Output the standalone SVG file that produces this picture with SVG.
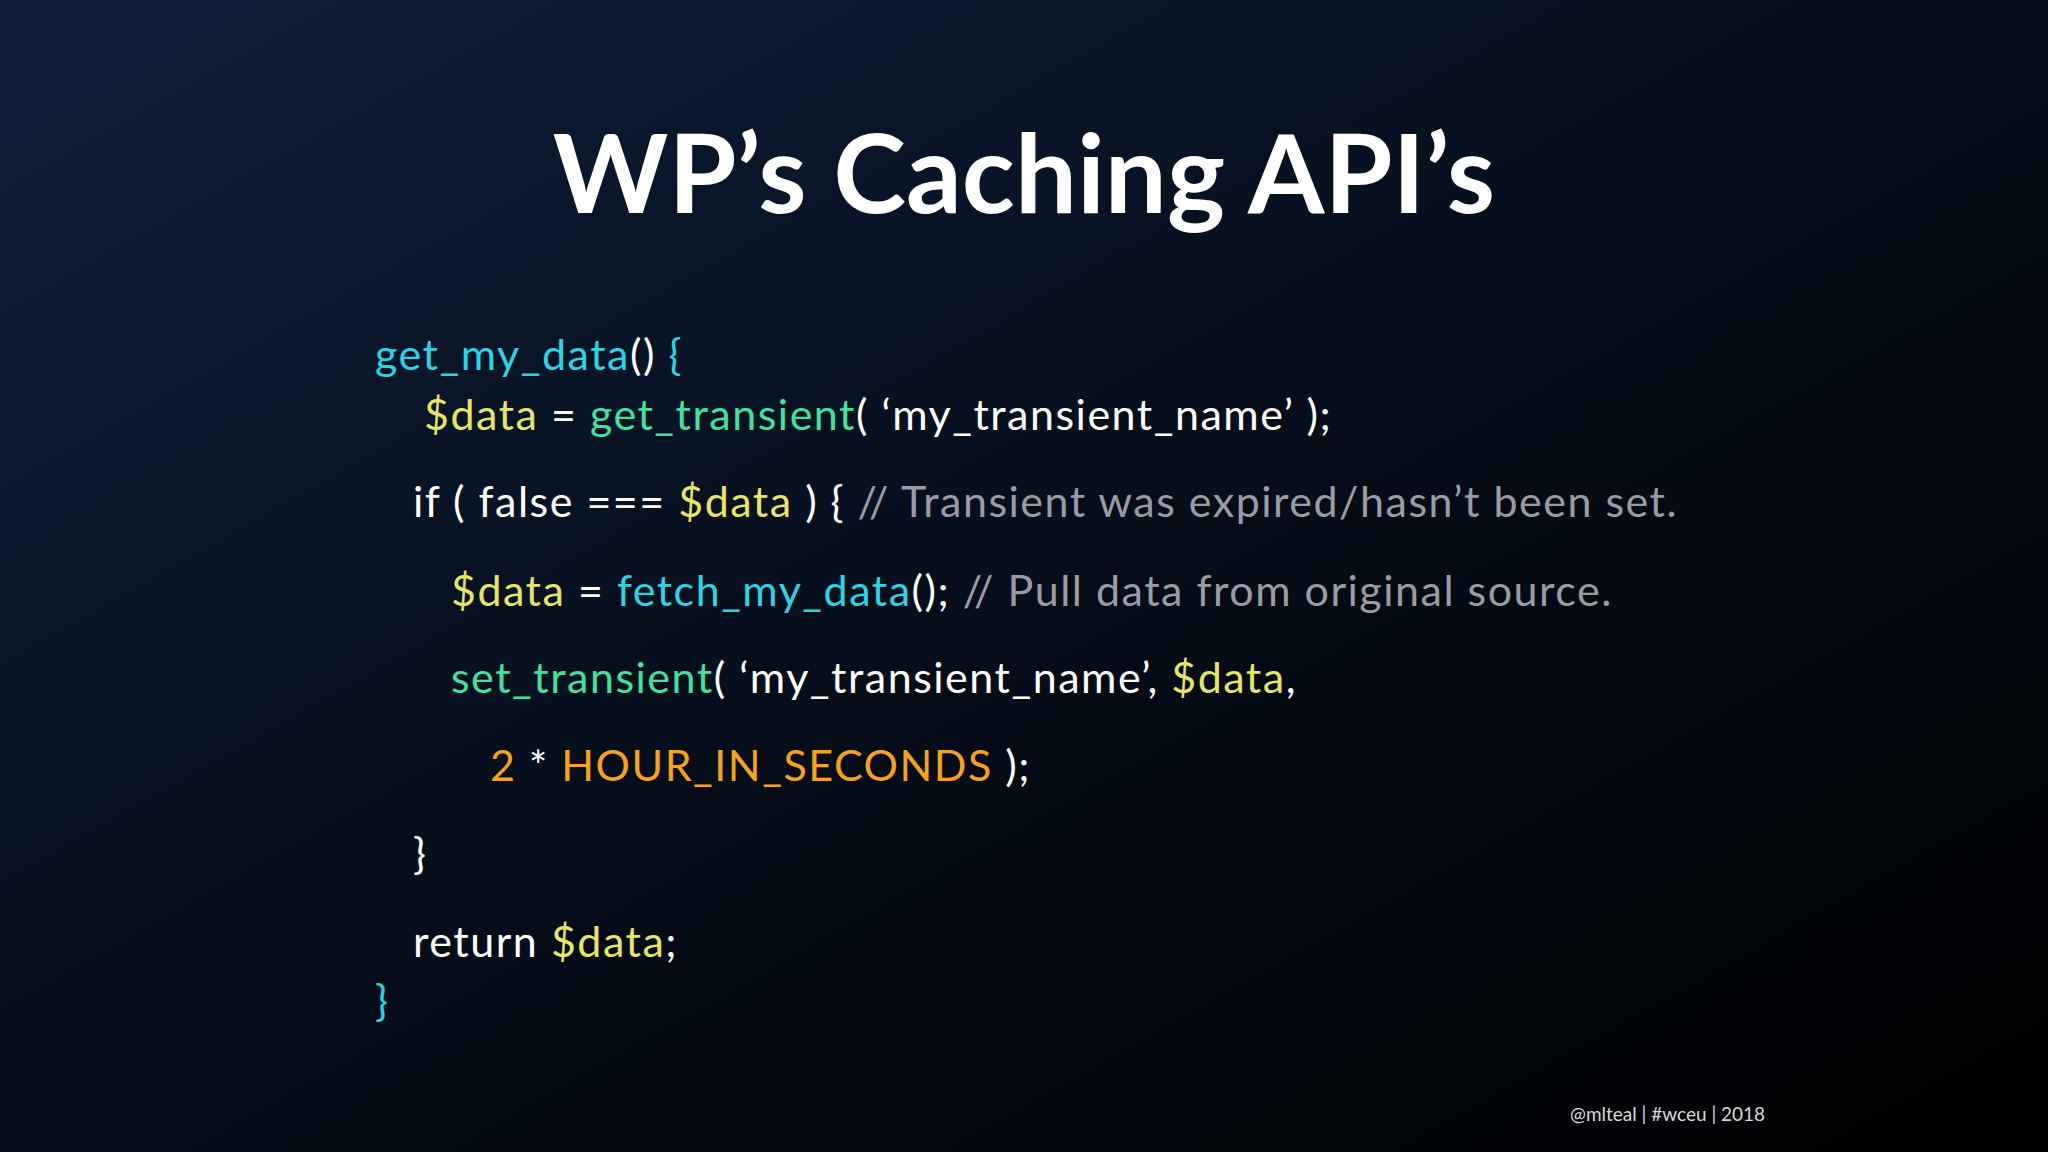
<svg xmlns="http://www.w3.org/2000/svg" width="2048" height="1152" viewBox="0 0 2048 1152">
<defs>
<linearGradient id="bg" x1="0" y1="0" x2="1" y2="1">
<stop offset="0" stop-color="#0d1f38"/>
<stop offset="0.55" stop-color="#050c17"/>
<stop offset="1" stop-color="#000000"/>
</linearGradient>
<style>
.code{font-family:Lato,"Open Sans",sans-serif;font-size:43px;letter-spacing:1.5px;fill:#ffffff}
.c{fill:#2fd3e3}.g{fill:#45e0a0}.y{fill:#e6e46a}.m{fill:#9a9ca4}.o{fill:#f4a21f}
</style>
</defs>
<rect width="2048" height="1152" fill="url(#bg)"/>
<text id="title" x="1024" y="213" text-anchor="middle" font-family="Lato,sans-serif" font-weight="bold" font-size="110" fill="#ffffff">WP’s Caching API’s</text>
<g id="code" class="code" xml:space="preserve">
<text x="375" y="370"><tspan class="c">get_my_data</tspan>() <tspan class="c">{</tspan></text>
<text x="424" y="430"><tspan class="y">$data</tspan> = <tspan class="g">get_transient</tspan>( ‘my_transient_name’ );</text>
<text x="413" y="517">if ( false === <tspan class="y">$data</tspan> ) { <tspan class="m">// Transient was expired/hasn’t been set.</tspan></text>
<text x="451" y="606"><tspan class="y">$data</tspan> = <tspan class="c">fetch_my_data</tspan>(); <tspan class="m">// Pull data from original source.</tspan></text>
<text x="451" y="693"><tspan class="g">set_transient</tspan>( ‘my_transient_name’, <tspan class="y">$data</tspan>,</text>
<text x="490" y="781"><tspan class="o">2</tspan> * <tspan class="o">HOUR_IN_SECONDS</tspan> );</text>
<text x="413" y="869">}</text>
<text x="413" y="957">return <tspan class="y">$data</tspan>;</text>
<text x="375" y="1016"><tspan class="c">}</tspan></text>
</g>
<text id="footer" x="1570" y="1121" font-family="Lato,sans-serif" font-size="19" fill="#d8d8d8">@mlteal | #wceu | 2018</text>
</svg>
